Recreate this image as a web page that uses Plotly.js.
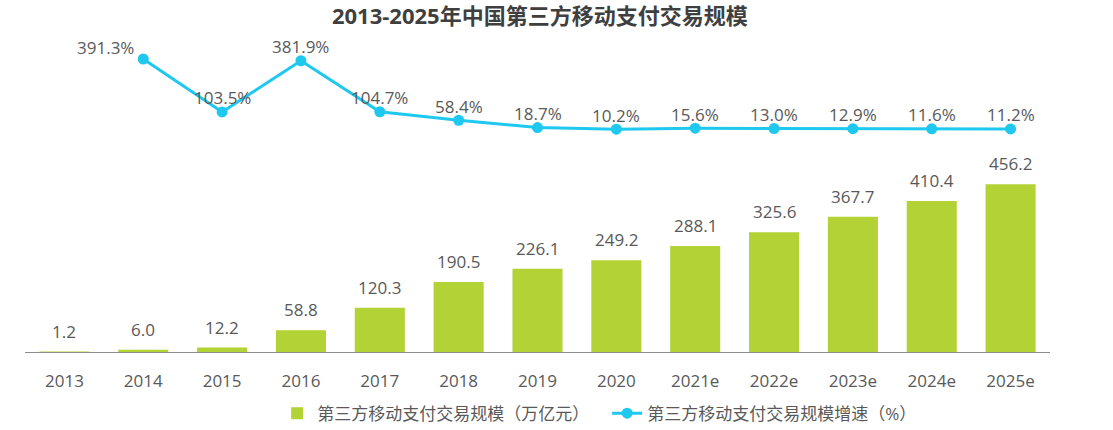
<!DOCTYPE html>
<html>
<head>
<meta charset="utf-8">
<script src="https://cdn.plot.ly/plotly-3.0.1.min.js"></script>
<style>html,body{margin:0;padding:0;background:#fff;}#chart{width:1113px;height:430px;}</style>
</head>
<body>
<div id="chart"></div>
<script>
const years = ['2013','2014','2015','2016','2017','2018','2019','2020','2021e','2022e','2023e','2024e','2025e'];
const volume = [1.2, 6.0, 12.2, 58.8, 120.3, 190.5, 226.1, 249.2, 288.1, 325.6, 367.7, 410.4, 456.2];
const growthYears = ['2014','2015','2016','2017','2018','2019','2020','2021e','2022e','2023e','2024e','2025e'];
const growth = [391.3, 103.5, 381.9, 104.7, 58.4, 18.7, 10.2, 15.6, 13.0, 12.9, 11.6, 11.2];

const FONT = 'Open Sans, "Noto Sans CJK SC", sans-serif';
const GRAY = '#595959';
const LABEL_FONT = {size: 17, color: GRAY, family: FONT};

const bars = {
  type: 'bar', x: years, y: volume, name: '第三方移动支付交易规模（万亿元）',
  marker: {color: '#b2d235'}, hoverinfo: 'x+y'
};
const line = {
  type: 'scatter', mode: 'lines+markers', x: growthYears, y: growth, yaxis: 'y2',
  name: '第三方移动支付交易规模增速（%）',
  line: {color: '#1ec8ef', width: 3}, marker: {color: '#1ec8ef', size: 11}, cliponaxis: false
};

// annotations on a category axis: use the category index
const barLabels = years.map((yr, i) => ({
  x: i, y: volume[i], xref: 'x', yref: 'y', text: volume[i].toFixed(1),
  showarrow: false, xanchor: 'center', yanchor: 'bottom', yshift: 7, font: LABEL_FONT
}));
const lineLabels = growthYears.map((yr, i) => ({
  x: years.indexOf(yr), y: growth[i], xref: 'x', yref: 'y2', text: growth[i].toFixed(1) + '%',
  showarrow: false, xanchor: i === 0 ? 'right' : 'center', xshift: i === 0 ? -7 : 0,
  yanchor: 'middle', yshift: i === 0 ? 12 : 14, font: LABEL_FONT
}));

const layout = {
  width: 1113, height: 430,
  margin: {l: 25, r: 63, t: 40, b: 78, autoexpand: false},
  paper_bgcolor: '#fff', plot_bgcolor: '#fff',
  font: {family: FONT, color: GRAY},
  title: {text: '<b>2013-2025年中国第三方移动支付交易规模</b>', x: 0.485, xanchor: 'center', y: 0.963, yanchor: 'middle',
          font: {size: 22, color: '#3f3f3f', family: FONT}},
  bargap: 0.365,
  showlegend: true,
  legend: {orientation: 'h', x: 0.246, xanchor: 'left', y: -0.14, yanchor: 'top',
           entrywidth: 285, entrywidthmode: 'pixels',
           font: {size: 17, color: GRAY, family: FONT}, itemwidth: 30, traceorder: 'normal'},
  xaxis: {type: 'category', range: [-0.5, 12.5], showgrid: false, showline: true, linecolor: '#8c8c8c', linewidth: 1,
          ticks: 'outside', ticklen: 14, tickcolor: 'rgba(0,0,0,0)', automargin: false,
          tickfont: {size: 17, color: GRAY, family: FONT}, zeroline: false},
  yaxis: {range: [0, 848], visible: false, showgrid: false, zeroline: false},
  yaxis2: {range: [-1201, 494.6], overlaying: 'y', side: 'right', visible: false, showgrid: false, zeroline: false},
  annotations: barLabels.concat(lineLabels)
};

Plotly.newPlot('chart', [bars, line], layout, {displayModeBar: false, staticPlot: true});
</script>
</body>
</html>
